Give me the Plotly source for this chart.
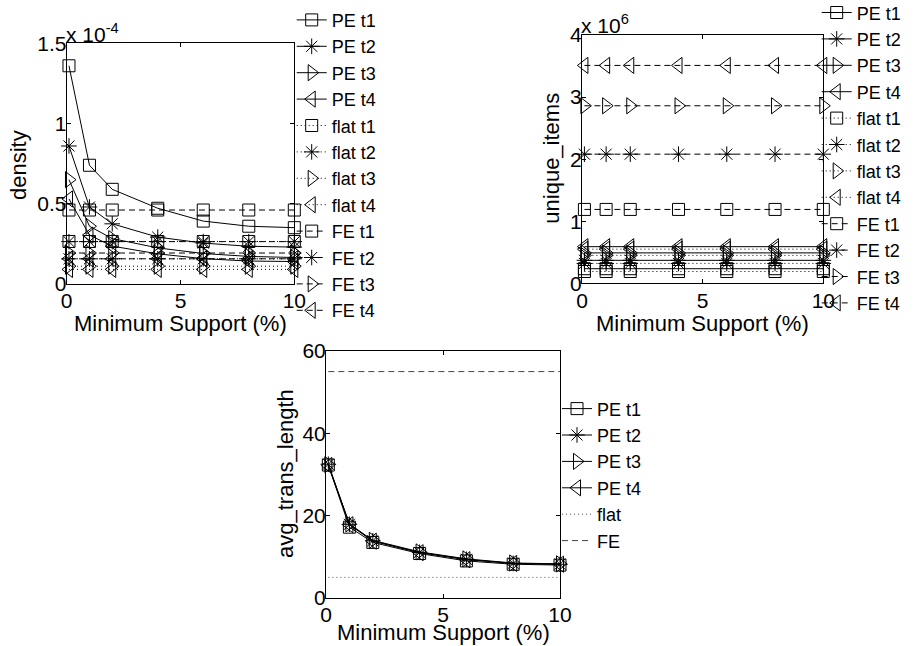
import plotly.graph_objects as go

W, H = 915, 646

# ---------------- data ----------------
support = [0.1, 1, 2, 4, 6, 8, 10]

# density (in units of 1e-4)
density_pe_t1 = [1.36, 0.74, 0.59, 0.472, 0.392, 0.36, 0.351]
density_pe_t2 = [0.86, 0.48, 0.375, 0.292, 0.255, 0.235, 0.23]
density_pe_t3 = [0.65, 0.36, 0.283, 0.225, 0.19, 0.172, 0.165]
density_pe_t4 = [0.53, 0.305, 0.236, 0.188, 0.158, 0.143, 0.14]
density_flat_t1 = [0.265, 0.265, 0.265, 0.265, 0.265, 0.265, 0.265]
density_flat_t2 = [0.157, 0.157, 0.157, 0.157, 0.157, 0.157, 0.157]
density_flat_t3 = [0.111, 0.111, 0.111, 0.111, 0.111, 0.111, 0.111]
density_flat_t4 = [0.091, 0.091, 0.091, 0.091, 0.091, 0.091, 0.091]
density_fe_t1 = [0.461, 0.461, 0.461, 0.461, 0.461, 0.461, 0.461]
density_fe_t2 = [0.264, 0.264, 0.264, 0.264, 0.264, 0.264, 0.264]
density_fe_t3 = [0.193, 0.193, 0.193, 0.193, 0.193, 0.193, 0.193]
density_fe_t4 = [0.157, 0.157, 0.157, 0.157, 0.157, 0.157, 0.157]

# unique items (in millions)
items_pe_t1 = [0.235, 0.235, 0.235, 0.235, 0.235, 0.235, 0.235]
items_pe_t2 = [0.37, 0.37, 0.37, 0.37, 0.37, 0.37, 0.37]
items_pe_t3 = [0.49, 0.49, 0.49, 0.49, 0.49, 0.49, 0.49]
items_pe_t4 = [0.59, 0.59, 0.59, 0.59, 0.59, 0.59, 0.59]
items_flat_t1 = [0.19, 0.19, 0.19, 0.19, 0.19, 0.19, 0.19]
items_flat_t2 = [0.32, 0.32, 0.32, 0.32, 0.32, 0.32, 0.32]
items_flat_t3 = [0.45, 0.45, 0.45, 0.45, 0.45, 0.45, 0.45]
items_flat_t4 = [0.55, 0.55, 0.55, 0.55, 0.55, 0.55, 0.55]
items_fe_t1 = [1.19, 1.19, 1.19, 1.19, 1.19, 1.19, 1.19]
items_fe_t2 = [2.08, 2.08, 2.08, 2.08, 2.08, 2.08, 2.08]
items_fe_t3 = [2.86, 2.86, 2.86, 2.86, 2.86, 2.86, 2.86]
items_fe_t4 = [3.51, 3.51, 3.51, 3.51, 3.51, 3.51, 3.51]

# average transaction length
length_pe_t1 = [32.3, 17.2, 13.5, 10.8, 9.0, 8.2, 8.0]
length_pe_t2 = [32.5, 17.9, 13.9, 11.1, 9.4, 8.4, 8.2]
length_pe_t3 = [32.4, 18.0, 14.0, 11.2, 9.5, 8.5, 8.3]
length_pe_t4 = [32.2, 17.8, 13.8, 11.0, 9.3, 8.4, 8.2]
length_flat = [5.0, 5.0, 5.0, 5.0, 5.0, 5.0, 5.0]
length_fe = [55.0, 55.0, 55.0, 55.0, 55.0, 55.0, 55.0]

x_ticks = [0, 5, 10]
density_ticks = [0, 0.5, 1, 1.5]
items_ticks = [0, 1, 2, 3, 4]
length_ticks = [0, 20, 40, 60]

# ---------------- styling ----------------
FONT = "Liberation Sans, Arial, sans-serif"
symbols = {"t1": "square-open", "t2": "asterisk-open",
           "t3": "triangle-right-open", "t4": "triangle-left-open"}
msize = {"t1": 12, "t2": 13, "t3": 14, "t4": 14}
dashes = {"PE": "solid", "flat": "1px,3px", "FE": "6px,4px"}


def px(x):
    return x / W


def py(y):
    return 1 - y / H


fig = go.Figure()


def add(name, y, scale, kind, lvl, xa, ya, legend, marker=True, color="black"):
    fig.add_trace(go.Scatter(
        x=support, y=[v * scale for v in y], name=name,
        mode="lines+markers" if marker else "lines",
        line=dict(color=color, width=1, dash=dashes[kind]),
        marker=dict(symbol=symbols.get(lvl, "circle"), size=msize.get(lvl, 10),
                    color="black", line=dict(color="black", width=1)),
        xaxis=xa, yaxis=ya, legend=legend, cliponaxis=False,
    ))


series1 = [
    ("PE t1", density_pe_t1, "PE", "t1"), ("PE t2", density_pe_t2, "PE", "t2"),
    ("PE t3", density_pe_t3, "PE", "t3"), ("PE t4", density_pe_t4, "PE", "t4"),
    ("flat t1", density_flat_t1, "flat", "t1"), ("flat t2", density_flat_t2, "flat", "t2"),
    ("flat t3", density_flat_t3, "flat", "t3"), ("flat t4", density_flat_t4, "flat", "t4"),
    ("FE t1", density_fe_t1, "FE", "t1"), ("FE t2", density_fe_t2, "FE", "t2"),
    ("FE t3", density_fe_t3, "FE", "t3"), ("FE t4", density_fe_t4, "FE", "t4"),
]
for name, y, kind, lvl in series1:
    add(name, y, 1e-4, kind, lvl, "x", "y", "legend")

series2 = [
    ("PE t1", items_pe_t1, "PE", "t1"), ("PE t2", items_pe_t2, "PE", "t2"),
    ("PE t3", items_pe_t3, "PE", "t3"), ("PE t4", items_pe_t4, "PE", "t4"),
    ("flat t1", items_flat_t1, "flat", "t1"), ("flat t2", items_flat_t2, "flat", "t2"),
    ("flat t3", items_flat_t3, "flat", "t3"), ("flat t4", items_flat_t4, "flat", "t4"),
    ("FE t1", items_fe_t1, "FE", "t1"), ("FE t2", items_fe_t2, "FE", "t2"),
    ("FE t3", items_fe_t3, "FE", "t3"), ("FE t4", items_fe_t4, "FE", "t4"),
]
for name, y, kind, lvl in series2:
    add(name, y, 1e6, kind, lvl, "x2", "y2", "legend2")

series3 = [
    ("PE t1", length_pe_t1, "PE", "t1"), ("PE t2", length_pe_t2, "PE", "t2"),
    ("PE t3", length_pe_t3, "PE", "t3"), ("PE t4", length_pe_t4, "PE", "t4"),
]
for name, y, kind, lvl in series3:
    add(name, y, 1, kind, lvl, "x3", "y3", "legend3")
add("flat", length_flat, 1, "flat", None, "x3", "y3", "legend3", marker=False, color="#555555")
add("FE", length_fe, 1, "FE", None, "x3", "y3", "legend3", marker=False, color="#444444")

axis_common = dict(showline=True, linecolor="black", linewidth=1, mirror="ticks",
                   ticks="inside", ticklen=4, tickcolor="black", showgrid=False,
                   zeroline=False, tickfont=dict(family=FONT, size=21, color="black"))
xa_common = dict(range=[0, 10], tickvals=x_ticks, ticklabelstandoff=-2, **axis_common)
ya_common = dict(ticklabelstandoff=-5, **axis_common)

fig.update_layout(
    width=W, height=H, margin=dict(l=0, r=0, t=0, b=0, autoexpand=False),
    paper_bgcolor="white", plot_bgcolor="white",
    font=dict(family=FONT, color="black"),
    xaxis=dict(domain=[px(66.7), px(294.3)], anchor="y", **xa_common),
    yaxis=dict(domain=[py(284), py(43.3)], anchor="x", range=[0, 1.5e-4],
               tickvals=[v * 1e-4 for v in density_ticks],
               ticktext=[f"{v:g}" for v in density_ticks], **ya_common),
    xaxis2=dict(domain=[px(582), px(823.3)], anchor="y2", **xa_common),
    yaxis2=dict(domain=[py(283.3), py(35)], anchor="x2", range=[0, 4e6],
                tickvals=[v * 1e6 for v in items_ticks],
                ticktext=[f"{v:g}" for v in items_ticks], **ya_common),
    xaxis3=dict(domain=[px(326), px(560)], anchor="y3", **xa_common),
    yaxis3=dict(domain=[py(598), py(351)], anchor="x3", range=[0, 60],
                tickvals=length_ticks, **ya_common),
)

leg_common = dict(xanchor="left", yanchor="top", bgcolor="rgba(0,0,0,0)",
                  font=dict(family=FONT, size=18, color="black"),
                  itemwidth=30, tracegroupgap=0, itemclick=False, maxheight=700)
fig.update_layout(
    legend=dict(x=px(291.7), y=py(1.7), **leg_common),
    legend2=dict(x=px(816.7), y=py(-5.7), **leg_common),
    legend3=dict(x=px(557), y=py(390.4), **leg_common),
)

title_font = dict(family=FONT, size=22, color="black")
ann = [
    dict(text="density", x=px(18), y=py(165), textangle=-90),
    dict(text="unique_items", x=px(551.7), y=py(158), textangle=-90),
    dict(text="avg_trans_length", x=px(285), y=py(474), textangle=-90),
    dict(text="Minimum Support (%)", x=px(180.5), y=py(323)),
    dict(text="Minimum Support (%)", x=px(702.7), y=py(323)),
    dict(text="Minimum Support (%)", x=px(443), y=py(632)),
]
for a in ann:
    fig.add_annotation(xref="paper", yref="paper", showarrow=False,
                       xanchor="center", yanchor="middle", font=title_font, **a)

fig.add_annotation(text="x 10<sup>-4</sup>", xref="paper", yref="paper",
                   x=px(64), y=py(48), xanchor="left", yanchor="bottom",
                   showarrow=False, font=dict(family=FONT, size=21, color="black"))
fig.add_annotation(text="x 10<sup>6</sup>", xref="paper", yref="paper",
                   x=px(579), y=py(39), xanchor="left", yanchor="bottom",
                   showarrow=False, font=dict(family=FONT, size=21, color="black"))

fig.write_html("out.html")
